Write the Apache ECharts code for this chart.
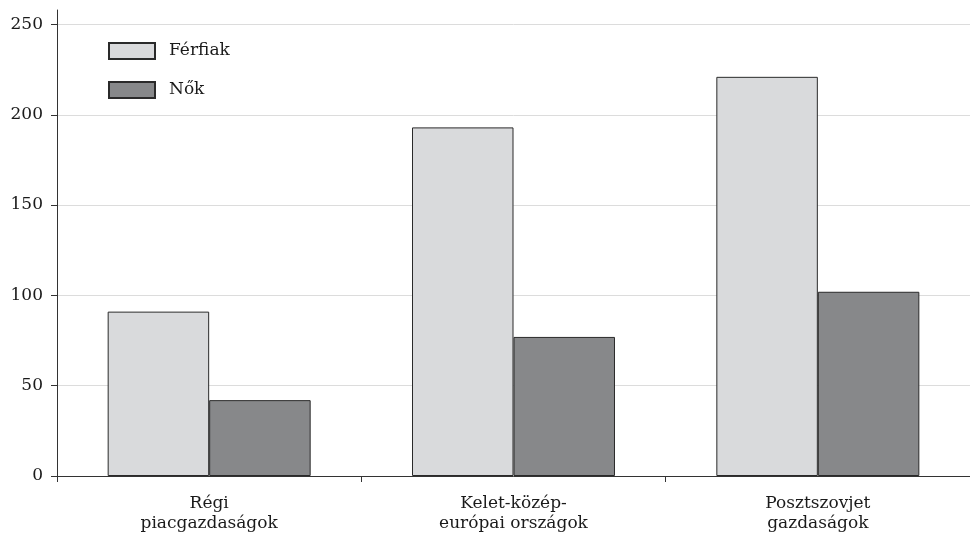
<!DOCTYPE html>
<html>
<head>
<meta charset="utf-8">
<script src="https://cdn.jsdelivr.net/npm/echarts@6/dist/echarts.min.js"></script>
<style>html,body{margin:0;padding:0;background:#fff}#c{width:970px;height:537px}</style>
</head>
<body>
<div id="c"></div>
<script>
var categories = ['Régi\npiacgazdaságok', 'Kelet-közép-\neurópai országok', 'Posztszovjet\ngazdaságok'];
var seriesNames = ['Férfiak', 'Nők'];
var ferfiak = [91, 193, 221];
var nok = [42, 77, 102];
var yTicks = [0, 50, 100, 150, 200, 250];

var FONT = '"DejaVu Serif", "Liberation Serif", serif';
var chart = echarts.init(document.getElementById('c'));
chart.setOption({
  animation: false,
  backgroundColor: '#fff',
  grid: { left: 57, right: 0, top: 10, bottom: 61, containLabel: false },
  legend: {
    orient: 'vertical', left: 108, top: 42, padding: 0,
    icon: 'rect',
    itemWidth: 46, itemHeight: 16, itemGap: 21,
    textStyle: { fontFamily: FONT, fontSize: 17, color: '#1a1a1a', padding: [0, 0, 0, 9] },
    data: seriesNames
  },
  xAxis: {
    type: 'category',
    data: categories,
    axisLine: { lineStyle: { color: '#333', width: 1 } },
    axisTick: { show: true, length: 6, alignWithLabel: false, lineStyle: { color: '#333' } },
    axisLabel: { fontFamily: FONT, fontSize: 17, color: '#1a1a1a', margin: 18, lineHeight: 20 }
  },
  yAxis: {
    type: 'value', min: 0, max: 258,
    axisLine: { show: true, lineStyle: { color: '#333', width: 1 } },
    axisTick: { show: true, length: 6, customValues: yTicks, lineStyle: { color: '#333' } },
    axisLabel: { fontFamily: FONT, fontSize: 17, color: '#1a1a1a', margin: 14, customValues: yTicks },
    splitLine: { show: true, lineStyle: { color: '#dcdcdc', width: 1 } }
  },
  series: [
    { name: seriesNames[0], type: 'bar', data: ferfiak, barGap: '0%', barCategoryGap: '33.3%',
      itemStyle: { color: '#d9dadc', borderColor: '#2a2a2a', borderWidth: 1 } },
    { name: seriesNames[1], type: 'bar', data: nok, barGap: '0%', barCategoryGap: '33.3%',
      itemStyle: { color: '#87888a', borderColor: '#2a2a2a', borderWidth: 1 } }
  ]
});
</script>
</body>
</html>
